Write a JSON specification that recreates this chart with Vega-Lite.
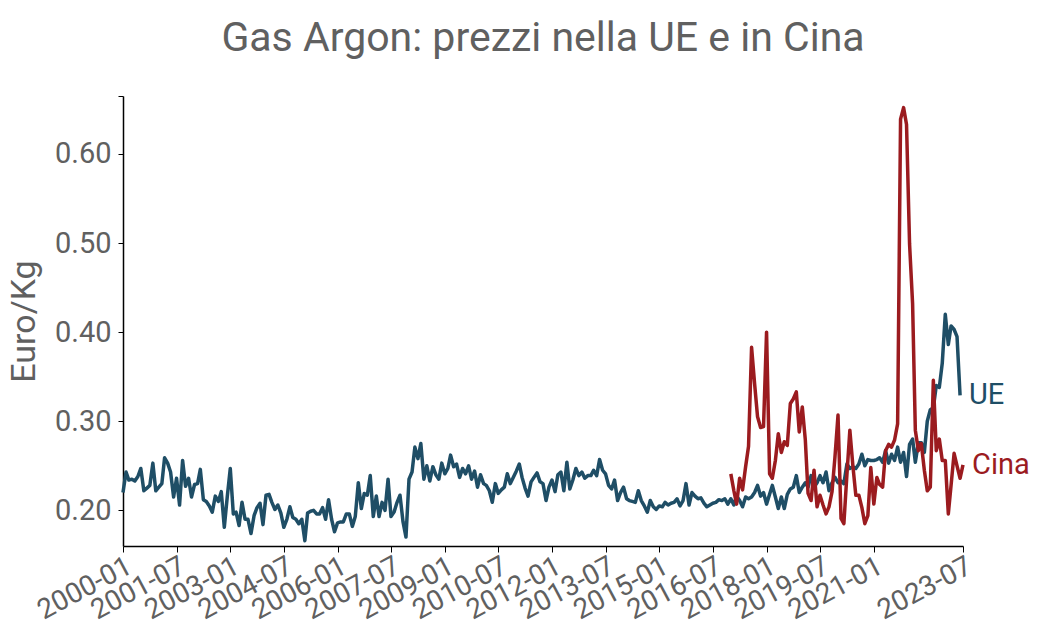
{
  "$schema": "https://vega.github.io/schema/vega-lite/v6.json",
  "width": 840,
  "height": 450,
  "autosize": "none",
  "padding": {"left": 123, "top": 96, "right": 77, "bottom": 89},
  "background": "white",
  "title": {"text": "Gas Argon: prezzi nella UE e in Cina", "font": "Roboto", "fontSize": 41, "fontWeight": "normal", "color": "#606060", "anchor": "middle", "offset": 36},
  "config": {"view": {"stroke": null}, "font": "Roboto"},
  "datasets": {
    "series": [
      {"d":"2000-01-01","s":"UE","v":0.220},{"d":"2000-02-01","s":"UE","v":0.243},{"d":"2000-03-01","s":"UE","v":0.234},{"d":"2000-04-01","s":"UE","v":0.235},{"d":"2000-05-01","s":"UE","v":0.233},{"d":"2000-06-01","s":"UE","v":0.238},{"d":"2000-07-01","s":"UE","v":0.247},{"d":"2000-08-01","s":"UE","v":0.222},{"d":"2000-09-01","s":"UE","v":0.225},{"d":"2000-10-01","s":"UE","v":0.228},{"d":"2000-11-01","s":"UE","v":0.253},{"d":"2000-12-01","s":"UE","v":0.222},
      {"d":"2001-01-01","s":"UE","v":0.226},{"d":"2001-02-01","s":"UE","v":0.230},{"d":"2001-03-01","s":"UE","v":0.259},{"d":"2001-04-01","s":"UE","v":0.253},{"d":"2001-05-01","s":"UE","v":0.243},{"d":"2001-06-01","s":"UE","v":0.215},{"d":"2001-07-01","s":"UE","v":0.236},{"d":"2001-08-01","s":"UE","v":0.206},{"d":"2001-09-01","s":"UE","v":0.256},{"d":"2001-10-01","s":"UE","v":0.227},{"d":"2001-11-01","s":"UE","v":0.236},{"d":"2001-12-01","s":"UE","v":0.215},
      {"d":"2002-01-01","s":"UE","v":0.229},{"d":"2002-02-01","s":"UE","v":0.230},{"d":"2002-03-01","s":"UE","v":0.246},{"d":"2002-04-01","s":"UE","v":0.212},{"d":"2002-05-01","s":"UE","v":0.210},{"d":"2002-06-01","s":"UE","v":0.205},{"d":"2002-07-01","s":"UE","v":0.198},{"d":"2002-08-01","s":"UE","v":0.216},{"d":"2002-09-01","s":"UE","v":0.210},{"d":"2002-10-01","s":"UE","v":0.221},{"d":"2002-11-01","s":"UE","v":0.181},{"d":"2002-12-01","s":"UE","v":0.215},
      {"d":"2003-01-01","s":"UE","v":0.247},{"d":"2003-02-01","s":"UE","v":0.196},{"d":"2003-03-01","s":"UE","v":0.198},{"d":"2003-04-01","s":"UE","v":0.183},{"d":"2003-05-01","s":"UE","v":0.209},{"d":"2003-06-01","s":"UE","v":0.190},{"d":"2003-07-01","s":"UE","v":0.190},{"d":"2003-08-01","s":"UE","v":0.174},{"d":"2003-09-01","s":"UE","v":0.194},{"d":"2003-10-01","s":"UE","v":0.203},{"d":"2003-11-01","s":"UE","v":0.208},{"d":"2003-12-01","s":"UE","v":0.184},
      {"d":"2004-01-01","s":"UE","v":0.217},{"d":"2004-02-01","s":"UE","v":0.218},{"d":"2004-03-01","s":"UE","v":0.209},{"d":"2004-04-01","s":"UE","v":0.201},{"d":"2004-05-01","s":"UE","v":0.206},{"d":"2004-06-01","s":"UE","v":0.197},{"d":"2004-07-01","s":"UE","v":0.181},{"d":"2004-08-01","s":"UE","v":0.190},{"d":"2004-09-01","s":"UE","v":0.204},{"d":"2004-10-01","s":"UE","v":0.192},{"d":"2004-11-01","s":"UE","v":0.190},{"d":"2004-12-01","s":"UE","v":0.185},
      {"d":"2005-01-01","s":"UE","v":0.190},{"d":"2005-02-01","s":"UE","v":0.166},{"d":"2005-03-01","s":"UE","v":0.197},{"d":"2005-04-01","s":"UE","v":0.199},{"d":"2005-05-01","s":"UE","v":0.200},{"d":"2005-06-01","s":"UE","v":0.196},{"d":"2005-07-01","s":"UE","v":0.196},{"d":"2005-08-01","s":"UE","v":0.203},{"d":"2005-09-01","s":"UE","v":0.190},{"d":"2005-10-01","s":"UE","v":0.212},{"d":"2005-11-01","s":"UE","v":0.190},{"d":"2005-12-01","s":"UE","v":0.176},
      {"d":"2006-01-01","s":"UE","v":0.186},{"d":"2006-02-01","s":"UE","v":0.187},{"d":"2006-03-01","s":"UE","v":0.187},{"d":"2006-04-01","s":"UE","v":0.196},{"d":"2006-05-01","s":"UE","v":0.196},{"d":"2006-06-01","s":"UE","v":0.182},{"d":"2006-07-01","s":"UE","v":0.193},{"d":"2006-08-01","s":"UE","v":0.231},{"d":"2006-09-01","s":"UE","v":0.202},{"d":"2006-10-01","s":"UE","v":0.219},{"d":"2006-11-01","s":"UE","v":0.217},{"d":"2006-12-01","s":"UE","v":0.239},
      {"d":"2007-01-01","s":"UE","v":0.193},{"d":"2007-02-01","s":"UE","v":0.216},{"d":"2007-03-01","s":"UE","v":0.193},{"d":"2007-04-01","s":"UE","v":0.209},{"d":"2007-05-01","s":"UE","v":0.200},{"d":"2007-06-01","s":"UE","v":0.235},{"d":"2007-07-01","s":"UE","v":0.193},{"d":"2007-08-01","s":"UE","v":0.198},{"d":"2007-09-01","s":"UE","v":0.209},{"d":"2007-10-01","s":"UE","v":0.217},{"d":"2007-11-01","s":"UE","v":0.187},{"d":"2007-12-01","s":"UE","v":0.170},
      {"d":"2008-01-01","s":"UE","v":0.235},{"d":"2008-02-01","s":"UE","v":0.243},{"d":"2008-03-01","s":"UE","v":0.271},{"d":"2008-04-01","s":"UE","v":0.258},{"d":"2008-05-01","s":"UE","v":0.275},{"d":"2008-06-01","s":"UE","v":0.235},{"d":"2008-07-01","s":"UE","v":0.250},{"d":"2008-08-01","s":"UE","v":0.233},{"d":"2008-09-01","s":"UE","v":0.249},{"d":"2008-10-01","s":"UE","v":0.240},{"d":"2008-11-01","s":"UE","v":0.235},{"d":"2008-12-01","s":"UE","v":0.253},
      {"d":"2009-01-01","s":"UE","v":0.241},{"d":"2009-02-01","s":"UE","v":0.247},{"d":"2009-03-01","s":"UE","v":0.262},{"d":"2009-04-01","s":"UE","v":0.249},{"d":"2009-05-01","s":"UE","v":0.252},{"d":"2009-06-01","s":"UE","v":0.237},{"d":"2009-07-01","s":"UE","v":0.247},{"d":"2009-08-01","s":"UE","v":0.241},{"d":"2009-09-01","s":"UE","v":0.250},{"d":"2009-10-01","s":"UE","v":0.235},{"d":"2009-11-01","s":"UE","v":0.244},{"d":"2009-12-01","s":"UE","v":0.226},
      {"d":"2010-01-01","s":"UE","v":0.240},{"d":"2010-02-01","s":"UE","v":0.230},{"d":"2010-03-01","s":"UE","v":0.228},{"d":"2010-04-01","s":"UE","v":0.222},{"d":"2010-05-01","s":"UE","v":0.209},{"d":"2010-06-01","s":"UE","v":0.230},{"d":"2010-07-01","s":"UE","v":0.219},{"d":"2010-08-01","s":"UE","v":0.223},{"d":"2010-09-01","s":"UE","v":0.226},{"d":"2010-10-01","s":"UE","v":0.241},{"d":"2010-11-01","s":"UE","v":0.230},{"d":"2010-12-01","s":"UE","v":0.237},
      {"d":"2011-01-01","s":"UE","v":0.244},{"d":"2011-02-01","s":"UE","v":0.252},{"d":"2011-03-01","s":"UE","v":0.237},{"d":"2011-04-01","s":"UE","v":0.225},{"d":"2011-05-01","s":"UE","v":0.216},{"d":"2011-06-01","s":"UE","v":0.232},{"d":"2011-07-01","s":"UE","v":0.237},{"d":"2011-08-01","s":"UE","v":0.242},{"d":"2011-09-01","s":"UE","v":0.232},{"d":"2011-10-01","s":"UE","v":0.230},{"d":"2011-11-01","s":"UE","v":0.211},{"d":"2011-12-01","s":"UE","v":0.226},
      {"d":"2012-01-01","s":"UE","v":0.234},{"d":"2012-02-01","s":"UE","v":0.221},{"d":"2012-03-01","s":"UE","v":0.240},{"d":"2012-04-01","s":"UE","v":0.243},{"d":"2012-05-01","s":"UE","v":0.222},{"d":"2012-06-01","s":"UE","v":0.254},{"d":"2012-07-01","s":"UE","v":0.224},{"d":"2012-08-01","s":"UE","v":0.234},{"d":"2012-09-01","s":"UE","v":0.247},{"d":"2012-10-01","s":"UE","v":0.239},{"d":"2012-11-01","s":"UE","v":0.243},{"d":"2012-12-01","s":"UE","v":0.236},
      {"d":"2013-01-01","s":"UE","v":0.239},{"d":"2013-02-01","s":"UE","v":0.239},{"d":"2013-03-01","s":"UE","v":0.245},{"d":"2013-04-01","s":"UE","v":0.239},{"d":"2013-05-01","s":"UE","v":0.257},{"d":"2013-06-01","s":"UE","v":0.245},{"d":"2013-07-01","s":"UE","v":0.241},{"d":"2013-08-01","s":"UE","v":0.228},{"d":"2013-09-01","s":"UE","v":0.224},{"d":"2013-10-01","s":"UE","v":0.234},{"d":"2013-11-01","s":"UE","v":0.211},{"d":"2013-12-01","s":"UE","v":0.220},
      {"d":"2014-01-01","s":"UE","v":0.226},{"d":"2014-02-01","s":"UE","v":0.213},{"d":"2014-03-01","s":"UE","v":0.211},{"d":"2014-04-01","s":"UE","v":0.210},{"d":"2014-05-01","s":"UE","v":0.209},{"d":"2014-06-01","s":"UE","v":0.222},{"d":"2014-07-01","s":"UE","v":0.211},{"d":"2014-08-01","s":"UE","v":0.205},{"d":"2014-09-01","s":"UE","v":0.198},{"d":"2014-10-01","s":"UE","v":0.211},{"d":"2014-11-01","s":"UE","v":0.204},{"d":"2014-12-01","s":"UE","v":0.201},
      {"d":"2015-01-01","s":"UE","v":0.205},{"d":"2015-02-01","s":"UE","v":0.204},{"d":"2015-03-01","s":"UE","v":0.209},{"d":"2015-04-01","s":"UE","v":0.206},{"d":"2015-05-01","s":"UE","v":0.208},{"d":"2015-06-01","s":"UE","v":0.209},{"d":"2015-07-01","s":"UE","v":0.213},{"d":"2015-08-01","s":"UE","v":0.205},{"d":"2015-09-01","s":"UE","v":0.211},{"d":"2015-10-01","s":"UE","v":0.230},{"d":"2015-11-01","s":"UE","v":0.206},{"d":"2015-12-01","s":"UE","v":0.220},
      {"d":"2016-01-01","s":"UE","v":0.216},{"d":"2016-02-01","s":"UE","v":0.213},{"d":"2016-03-01","s":"UE","v":0.214},{"d":"2016-04-01","s":"UE","v":0.208},{"d":"2016-05-01","s":"UE","v":0.204},{"d":"2016-06-01","s":"UE","v":0.206},{"d":"2016-07-01","s":"UE","v":0.208},{"d":"2016-08-01","s":"UE","v":0.209},{"d":"2016-09-01","s":"UE","v":0.212},{"d":"2016-10-01","s":"UE","v":0.211},{"d":"2016-11-01","s":"UE","v":0.213},{"d":"2016-12-01","s":"UE","v":0.207},
      {"d":"2017-01-01","s":"UE","v":0.213},{"d":"2017-02-01","s":"UE","v":0.206},{"d":"2017-03-01","s":"UE","v":0.216},{"d":"2017-04-01","s":"UE","v":0.211},{"d":"2017-05-01","s":"UE","v":0.204},{"d":"2017-06-01","s":"UE","v":0.215},{"d":"2017-07-01","s":"UE","v":0.213},{"d":"2017-08-01","s":"UE","v":0.215},{"d":"2017-09-01","s":"UE","v":0.220},{"d":"2017-10-01","s":"UE","v":0.228},{"d":"2017-11-01","s":"UE","v":0.216},{"d":"2017-12-01","s":"UE","v":0.220},
      {"d":"2018-01-01","s":"UE","v":0.207},{"d":"2018-02-01","s":"UE","v":0.218},{"d":"2018-03-01","s":"UE","v":0.228},{"d":"2018-04-01","s":"UE","v":0.215},{"d":"2018-05-01","s":"UE","v":0.202},{"d":"2018-06-01","s":"UE","v":0.215},{"d":"2018-07-01","s":"UE","v":0.202},{"d":"2018-08-01","s":"UE","v":0.218},{"d":"2018-09-01","s":"UE","v":0.224},{"d":"2018-10-01","s":"UE","v":0.226},{"d":"2018-11-01","s":"UE","v":0.239},{"d":"2018-12-01","s":"UE","v":0.220},
      {"d":"2019-01-01","s":"UE","v":0.226},{"d":"2019-02-01","s":"UE","v":0.231},{"d":"2019-03-01","s":"UE","v":0.226},{"d":"2019-04-01","s":"UE","v":0.239},{"d":"2019-05-01","s":"UE","v":0.226},{"d":"2019-06-01","s":"UE","v":0.231},{"d":"2019-07-01","s":"UE","v":0.239},{"d":"2019-08-01","s":"UE","v":0.231},{"d":"2019-09-01","s":"UE","v":0.243},{"d":"2019-10-01","s":"UE","v":0.222},{"d":"2019-11-01","s":"UE","v":0.231},{"d":"2019-12-01","s":"UE","v":0.237},
      {"d":"2020-01-01","s":"UE","v":0.231},{"d":"2020-02-01","s":"UE","v":0.233},{"d":"2020-03-01","s":"UE","v":0.230},{"d":"2020-04-01","s":"UE","v":0.252},{"d":"2020-05-01","s":"UE","v":0.247},{"d":"2020-06-01","s":"UE","v":0.249},{"d":"2020-07-01","s":"UE","v":0.247},{"d":"2020-08-01","s":"UE","v":0.252},{"d":"2020-09-01","s":"UE","v":0.263},{"d":"2020-10-01","s":"UE","v":0.250},{"d":"2020-11-01","s":"UE","v":0.257},{"d":"2020-12-01","s":"UE","v":0.256},
      {"d":"2021-01-01","s":"UE","v":0.256},{"d":"2021-02-01","s":"UE","v":0.257},{"d":"2021-03-01","s":"UE","v":0.259},{"d":"2021-04-01","s":"UE","v":0.254},{"d":"2021-05-01","s":"UE","v":0.267},{"d":"2021-06-01","s":"UE","v":0.253},{"d":"2021-07-01","s":"UE","v":0.263},{"d":"2021-08-01","s":"UE","v":0.256},{"d":"2021-09-01","s":"UE","v":0.271},{"d":"2021-10-01","s":"UE","v":0.254},{"d":"2021-11-01","s":"UE","v":0.265},{"d":"2021-12-01","s":"UE","v":0.238},
      {"d":"2022-01-01","s":"UE","v":0.274},{"d":"2022-02-01","s":"UE","v":0.280},{"d":"2022-03-01","s":"UE","v":0.254},{"d":"2022-04-01","s":"UE","v":0.276},{"d":"2022-05-01","s":"UE","v":0.276},{"d":"2022-06-01","s":"UE","v":0.265},{"d":"2022-07-01","s":"UE","v":0.300},{"d":"2022-08-01","s":"UE","v":0.313},{"d":"2022-09-01","s":"UE","v":0.315},{"d":"2022-10-01","s":"UE","v":0.340},{"d":"2022-11-01","s":"UE","v":0.338},{"d":"2022-12-01","s":"UE","v":0.365},
      {"d":"2023-01-01","s":"UE","v":0.420},{"d":"2023-02-01","s":"UE","v":0.386},{"d":"2023-03-01","s":"UE","v":0.407},{"d":"2023-04-01","s":"UE","v":0.403},{"d":"2023-05-01","s":"UE","v":0.395},{"d":"2023-06-01","s":"UE","v":0.329},
      {"d":"2017-01-01","s":"Cina","v":0.241},{"d":"2017-02-01","s":"Cina","v":0.222},{"d":"2017-03-01","s":"Cina","v":0.207},{"d":"2017-04-01","s":"Cina","v":0.236},{"d":"2017-05-01","s":"Cina","v":0.223},{"d":"2017-06-01","s":"Cina","v":0.249},{"d":"2017-07-01","s":"Cina","v":0.272},{"d":"2017-08-01","s":"Cina","v":0.383},{"d":"2017-09-01","s":"Cina","v":0.342},{"d":"2017-10-01","s":"Cina","v":0.305},{"d":"2017-11-01","s":"Cina","v":0.293},{"d":"2017-12-01","s":"Cina","v":0.294},
      {"d":"2018-01-01","s":"Cina","v":0.400},{"d":"2018-02-01","s":"Cina","v":0.241},{"d":"2018-03-01","s":"Cina","v":0.236},{"d":"2018-04-01","s":"Cina","v":0.256},{"d":"2018-05-01","s":"Cina","v":0.286},{"d":"2018-06-01","s":"Cina","v":0.265},{"d":"2018-07-01","s":"Cina","v":0.277},{"d":"2018-08-01","s":"Cina","v":0.273},{"d":"2018-09-01","s":"Cina","v":0.320},{"d":"2018-10-01","s":"Cina","v":0.325},{"d":"2018-11-01","s":"Cina","v":0.333},{"d":"2018-12-01","s":"Cina","v":0.288},
      {"d":"2019-01-01","s":"Cina","v":0.316},{"d":"2019-02-01","s":"Cina","v":0.279},{"d":"2019-03-01","s":"Cina","v":0.219},{"d":"2019-04-01","s":"Cina","v":0.211},{"d":"2019-05-01","s":"Cina","v":0.245},{"d":"2019-06-01","s":"Cina","v":0.204},{"d":"2019-07-01","s":"Cina","v":0.217},{"d":"2019-08-01","s":"Cina","v":0.206},{"d":"2019-09-01","s":"Cina","v":0.196},{"d":"2019-10-01","s":"Cina","v":0.204},{"d":"2019-11-01","s":"Cina","v":0.221},{"d":"2019-12-01","s":"Cina","v":0.260},
      {"d":"2020-01-01","s":"Cina","v":0.307},{"d":"2020-02-01","s":"Cina","v":0.191},{"d":"2020-03-01","s":"Cina","v":0.185},{"d":"2020-04-01","s":"Cina","v":0.240},{"d":"2020-05-01","s":"Cina","v":0.290},{"d":"2020-06-01","s":"Cina","v":0.250},{"d":"2020-07-01","s":"Cina","v":0.217},{"d":"2020-08-01","s":"Cina","v":0.217},{"d":"2020-09-01","s":"Cina","v":0.203},{"d":"2020-10-01","s":"Cina","v":0.185},{"d":"2020-11-01","s":"Cina","v":0.194},{"d":"2020-12-01","s":"Cina","v":0.248},
      {"d":"2021-01-01","s":"Cina","v":0.207},{"d":"2021-02-01","s":"Cina","v":0.237},{"d":"2021-03-01","s":"Cina","v":0.229},{"d":"2021-04-01","s":"Cina","v":0.226},{"d":"2021-05-01","s":"Cina","v":0.267},{"d":"2021-06-01","s":"Cina","v":0.274},{"d":"2021-07-01","s":"Cina","v":0.271},{"d":"2021-08-01","s":"Cina","v":0.279},{"d":"2021-09-01","s":"Cina","v":0.297},{"d":"2021-10-01","s":"Cina","v":0.639},{"d":"2021-11-01","s":"Cina","v":0.652},{"d":"2021-12-01","s":"Cina","v":0.633},
      {"d":"2022-01-01","s":"Cina","v":0.499},{"d":"2022-02-01","s":"Cina","v":0.432},{"d":"2022-03-01","s":"Cina","v":0.290},{"d":"2022-04-01","s":"Cina","v":0.267},{"d":"2022-05-01","s":"Cina","v":0.275},{"d":"2022-06-01","s":"Cina","v":0.245},{"d":"2022-07-01","s":"Cina","v":0.222},{"d":"2022-08-01","s":"Cina","v":0.226},{"d":"2022-09-01","s":"Cina","v":0.346},{"d":"2022-10-01","s":"Cina","v":0.267},{"d":"2022-11-01","s":"Cina","v":0.280},{"d":"2022-12-01","s":"Cina","v":0.256},
      {"d":"2023-01-01","s":"Cina","v":0.256},{"d":"2023-02-01","s":"Cina","v":0.196},{"d":"2023-03-01","s":"Cina","v":0.228},{"d":"2023-04-01","s":"Cina","v":0.264},{"d":"2023-05-01","s":"Cina","v":0.250},{"d":"2023-06-01","s":"Cina","v":0.236},{"d":"2023-07-01","s":"Cina","v":0.251}
    ],
    "ends": [
      {"d":"2023-06-01","s":"UE","v":0.329},
      {"d":"2023-07-01","s":"Cina","v":0.251}
    ]
  },
  "layer": [
    {
      "data": {"name": "series"},
      "mark": {"type": "line", "strokeWidth": 3.5, "strokeJoin": "round"},
      "encoding": {
        "x": {
          "field": "d", "type": "temporal", "title": null,
          "scale": {"type": "utc", "domain": [{"year": 2000, "month": 1, "date": 1, "utc": true}, {"year": 2023, "month": 7, "date": 1, "utc": true}]},
          "axis": {
            "values": [
              {"year": 2000, "month": 1, "date": 1, "utc": true},
              {"year": 2001, "month": 7, "date": 1, "utc": true},
              {"year": 2003, "month": 1, "date": 1, "utc": true},
              {"year": 2004, "month": 7, "date": 1, "utc": true},
              {"year": 2006, "month": 1, "date": 1, "utc": true},
              {"year": 2007, "month": 7, "date": 1, "utc": true},
              {"year": 2009, "month": 1, "date": 1, "utc": true},
              {"year": 2010, "month": 7, "date": 1, "utc": true},
              {"year": 2012, "month": 1, "date": 1, "utc": true},
              {"year": 2013, "month": 7, "date": 1, "utc": true},
              {"year": 2015, "month": 1, "date": 1, "utc": true},
              {"year": 2016, "month": 7, "date": 1, "utc": true},
              {"year": 2018, "month": 1, "date": 1, "utc": true},
              {"year": 2019, "month": 7, "date": 1, "utc": true},
              {"year": 2021, "month": 1, "date": 1, "utc": true},
              {"year": 2023, "month": 7, "date": 1, "utc": true}
            ],
            "labelExpr": "utcFormat(datum.value, '%Y-%m')",
            "labelAngle": -28, "labelAlign": "right", "labelBaseline": "top",
            "labelFontSize": 28, "labelColor": "#606060", "labelFont": "Roboto",
            "labelOverlap": false, "labelFlush": false, "labelPadding": 0,
            "domainColor": "#000000", "domainWidth": 1.5, "tickColor": "#000000", "tickSize": 6, "grid": false
          }
        },
        "y": {
          "field": "v", "type": "quantitative",
          "scale": {"domain": [0.16, 0.665], "nice": false, "zero": false},
          "axis": {
            "values": [0.2, 0.3, 0.4, 0.5, 0.6, 0.665],
            "labelExpr": "datum.value > 0.65 ? '' : format(datum.value, '.2f')",
            "title": "Euro/Kg", "titleFontSize": 34, "titleFontWeight": "normal", "titleColor": "#606060", "titleFont": "Roboto", "titlePadding": 13,
            "labelFontSize": 29, "labelColor": "#606060", "labelFont": "Roboto", "labelPadding": 7,
            "domainColor": "#000000", "domainWidth": 1.5, "tickColor": "#000000", "tickSize": 5, "grid": false
          }
        },
        "color": {"field": "s", "type": "nominal", "scale": {"domain": ["UE", "Cina"], "range": ["#1f4e66", "#9b1b1f"]}, "legend": null}
      }
    },
    {
      "data": {"name": "ends"},
      "mark": {"type": "text", "align": "left", "baseline": "middle", "dx": 9, "fontSize": 29, "font": "Roboto"},
      "encoding": {
        "x": {"field": "d", "type": "temporal"},
        "y": {"field": "v", "type": "quantitative"},
        "text": {"field": "s"},
        "color": {"field": "s", "type": "nominal", "legend": null}
      }
    }
  ]
}
